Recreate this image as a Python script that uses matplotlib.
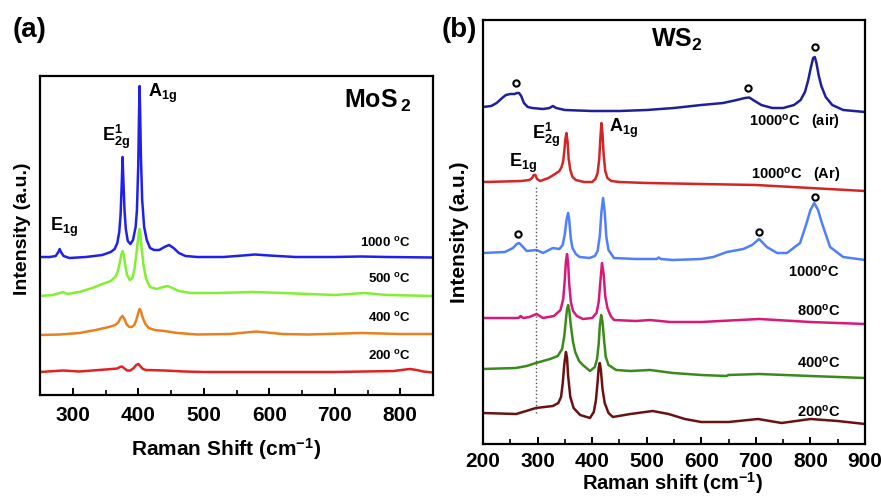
import matplotlib
matplotlib.use("Agg")
import matplotlib.pyplot as plt
from matplotlib.ticker import MultipleLocator

plt.rcParams['font.family'] = ['Liberation Sans', 'DejaVu Sans']
plt.rcParams['font.weight'] = 'bold'
plt.rcParams['mathtext.fontset'] = 'custom'
plt.rcParams['mathtext.rm'] = 'Liberation Sans:bold'
plt.rcParams['mathtext.it'] = 'Liberation Sans:bold'
plt.rcParams['mathtext.bf'] = 'Liberation Sans:bold'
plt.rcParams['mathtext.default'] = 'rm'

# ---------------- Panel (a): MoS2 ----------------
mos2_1000_x = [250, 265, 274, 278, 280, 282, 286, 295, 320, 345, 358, 364, 368, 371, 373, 375, 376, 377, 379, 381, 384, 388,
               392, 396, 398, 400, 401, 402, 403, 404, 406, 409, 413, 418, 424, 432, 440, 447, 454, 462, 472, 490, 530, 560,
               578, 600, 640, 700, 740, 780, 850]
mos2_1000_y = [138, 138, 139, 143, 146, 143, 139, 137, 138, 140, 143, 146, 152, 163, 180, 215, 238, 220, 185, 166, 154, 151,
               155, 168, 185, 230, 275, 309, 280, 240, 195, 168, 155, 147, 145, 145, 148, 150, 147, 142, 139, 138, 138, 139.5,
               140.5, 139.5, 138, 138, 138.5, 138, 137.5]

mos2_500_x = [250, 270, 280, 285, 292, 310, 330, 345, 358, 365, 369, 372, 374, 376, 378, 380, 383, 387, 391, 394, 397, 399,
              401, 402, 403, 405, 408, 412, 418, 428, 438, 445, 452, 462, 480, 520, 575, 620, 700, 745, 780, 850]
mos2_500_y = [99, 100, 102, 103, 101, 103, 107, 111, 114, 118, 124, 133, 140, 144, 140, 130, 120, 115, 117, 125, 140, 152,
              163, 166, 162, 148, 130, 116, 108, 106, 108, 109, 107, 104, 102, 102, 103, 102, 100, 102, 100, 99]

mos2_400_x = [250, 280, 310, 335, 355, 365, 370, 373, 376, 379, 382, 386, 390, 394, 397, 400, 402, 404, 407, 411, 416, 425,
              440, 460, 490, 540, 580, 620, 660, 740, 800, 850]
mos2_400_y = [60, 60.5, 62, 65, 68, 70, 73, 77, 79, 76, 71, 68, 68, 70, 75, 82, 86, 84, 77, 71, 67, 65,
              64, 62, 60.5, 61, 63.5, 61, 60.5, 62, 61, 61]

mos2_200_x = [250, 285, 310, 340, 360, 368, 372, 375, 378, 383, 388, 393, 397, 400, 403, 407, 412, 440, 470, 500, 600, 700,
              790, 808, 815, 825, 835, 850]
mos2_200_y = [23, 24.5, 23.5, 25, 26, 26.5, 28, 28.5, 27, 24.5, 24.5, 27, 30, 31, 29, 26, 25, 24.5, 23.5, 23, 23, 23,
              24, 25.5, 26, 25, 23.5, 22.5]

mos2_labels = ["1000 $^{o}$C", "500 $^{o}$C", "400 $^{o}$C", "200 $^{o}$C"]
mos2_colors = ["#2020ee", "#80f030", "#e8801e", "#e02222"]

# ---------------- Panel (b): WS2 ----------------
ws2_air_x = [200, 215, 225, 235, 242, 250, 258, 262, 266, 270, 275, 282, 290, 310, 322, 328, 334, 350, 400, 450, 500, 550,
             600, 640, 665, 680, 688, 695, 710, 730, 750, 770, 782, 790, 796, 801, 805, 808, 811, 815, 820, 828, 840, 860,
             880, 900]
ws2_air_y = [337, 338, 341, 346, 349, 350, 350, 351, 351, 348, 341, 337, 336, 335, 336, 338, 336, 334, 333, 333, 334, 336,
             339, 341, 344, 346, 346.5, 344, 339, 336, 336, 339, 344, 352, 364, 377, 386, 387, 381, 369, 358, 347, 339, 334,
             333, 332]

ws2_ar_x = [200, 240, 270, 285, 290, 293, 296, 299, 305, 320, 332, 340, 344, 347, 349, 351, 353, 355, 357, 360, 364, 370,
            385, 400, 406, 410, 413, 415, 417, 419, 421, 424, 428, 435, 450, 500, 600, 700, 800, 900]
ws2_ar_y = [262, 262.5, 263, 264, 266, 269, 269, 265, 263, 266, 270, 273, 277, 283, 293, 305, 311, 302, 285, 274, 267, 264,
            262, 262, 265, 271, 285, 305, 321, 310, 290, 273, 266, 263, 262, 261, 260, 259, 256, 253]

ws2_1000_x = [200, 240, 255, 262, 266, 270, 280, 298, 310, 328, 340, 346, 350, 353, 356, 358, 361, 364, 370, 377, 395, 405,
              410, 414, 417, 420, 423, 426, 430, 440, 480, 518, 522, 526, 548, 600, 622, 647, 677, 693, 706, 720, 739, 757,
              781, 793, 800, 807, 814, 821, 836, 860, 900]
ws2_1000_y = [191, 192, 196, 200, 201, 199, 193, 194, 191, 196, 195, 199, 210, 224, 231, 224, 205, 196, 190, 187, 186, 188,
              193, 208, 232, 246, 232, 207, 194, 186, 185, 185, 186.5, 185, 184, 185, 187, 192, 195, 199, 205, 197, 191, 191,
              201, 221, 234, 241, 234, 221, 197, 187, 184]

ws2_800_x = [200, 265, 269, 271, 274, 285, 298, 310, 330, 342, 347, 350, 352, 354, 356, 358, 361, 365, 372, 383, 400, 408,
             412, 415, 418, 421, 424, 428, 434, 440, 480, 506, 543, 600, 706, 800, 900]
ws2_800_y = [126, 126, 128, 127, 126, 127, 130, 126, 128, 134, 145, 165, 183, 190, 181, 160, 142, 133, 128, 125, 126, 131,
             142, 162, 181, 170, 148, 136, 128, 124, 123, 124, 122, 122, 125, 122, 120]

ws2_400_x = [200, 260, 280, 297, 323, 337, 345, 349, 352, 354, 356, 358, 361, 365, 369, 376, 383, 396, 405, 409, 412, 414,
             416.5, 419, 422, 425, 430, 444, 470, 506, 548, 600, 647, 649, 706, 800, 900]
ws2_400_y = [75, 76, 78, 81, 85, 88, 95, 108, 125, 135, 139, 134, 118, 102, 92, 83, 79, 73, 77, 85, 100, 118,
             129, 122, 103, 87, 79, 74, 73, 74, 71, 69, 68, 69, 70, 68, 66]

ws2_200_x = [200, 261, 297, 328, 338, 343, 346, 349, 352, 354, 356, 360, 366, 378, 396, 403, 407, 410, 412, 414, 416, 419,
             423, 430, 438, 470, 511, 540, 570, 600, 650, 704, 747, 800, 850, 900]
ws2_200_y = [31, 30, 36, 38, 41, 47, 60, 80, 92, 86, 68, 47, 36, 29, 26, 32, 44, 62, 76, 81, 74, 55,
             41, 31, 27, 30, 33, 30, 25, 22, 22, 25, 21, 25, 23, 20]

ws2_labels = ["1000$^{o}$C   (air)", "1000$^{o}$C   (Ar)", "1000$^{o}$C", "800$^{o}$C", "400$^{o}$C", "200$^{o}$C"]
ws2_colors = ["#1f1f9c", "#d42424", "#4f7fff", "#d8197a", "#3c8a1c", "#6a1212"]

ws2_oxide_x = [261, 686, 808, 264, 706, 808]
ws2_oxide_y = [361, 356, 397, 210, 212, 247]

x_ticks_a = [300, 400, 500, 600, 700, 800]
x_ticks_b = [200, 300, 400, 500, 600, 700, 800, 900]

fig = plt.figure(figsize=(8.81, 4.96), dpi=100)
axa = fig.add_axes([40/881, 101/496, 393/881, 319/496])
axb = fig.add_axes([483/881, 52/496, 382/881, 424/496])

for xs, ys, c in zip([mos2_1000_x, mos2_500_x, mos2_400_x, mos2_200_x],
                     [mos2_1000_y, mos2_500_y, mos2_400_y, mos2_200_y], mos2_colors):
    axa.plot(xs, ys, color=c, lw=1.8, solid_joinstyle='round')

axa.set_xlim(250, 850)
axa.set_ylim(0, 319)
axa.set_xticks(x_ticks_a)
axa.set_xticklabels([str(v) for v in x_ticks_a])
axa.xaxis.set_minor_locator(MultipleLocator(50))
axa.set_yticks([])

temp_y_a = [152, 116, 77, 39]
for lab, ty in zip(mos2_labels, temp_y_a):
    axa.text(816, ty, lab, ha='right', va='center', fontsize=9.5, fontweight='bold')
axa.text(287, 168, "E$_{1g}$", ha='center', va='center', fontsize=13)
axa.text(366, 258, "E$^{1}_{2g}$", ha='center', va='center', fontsize=13)
axa.text(437, 302, "A$_{1g}$", ha='center', va='center', fontsize=13)
axa.text(766, 294, "MoS$\\,_{2}$", ha='center', va='center', fontsize=18)

axa.set_xlabel("Raman Shift (cm$^{-1}$)", fontsize=15, fontweight='bold')
axa.set_ylabel("Intensity (a.u.)", fontsize=14, fontweight='bold')
axa.xaxis.set_label_coords(0.474, -0.128)
axa.yaxis.set_label_coords(-0.023, 0.52)

# panel b
for xs, ys, c in zip([ws2_air_x, ws2_ar_x, ws2_1000_x, ws2_800_x, ws2_400_x, ws2_200_x],
                     [ws2_air_y, ws2_ar_y, ws2_1000_y, ws2_800_y, ws2_400_y, ws2_200_y], ws2_colors):
    axb.plot(xs, ys, color=c, lw=1.8, solid_joinstyle='round')

axb.plot([298, 298], [31, 259], color='#555555', lw=1.0, ls=':')
axb.plot(ws2_oxide_x, ws2_oxide_y, ls='none', marker='o', ms=4.5, mfc='white', mec='black', mew=1.5)

axb.set_xlim(200, 900)
axb.set_ylim(0, 424)
axb.set_xticks(x_ticks_b)
axb.set_xticklabels([str(v) for v in x_ticks_b])
axb.xaxis.set_minor_locator(MultipleLocator(50))
axb.set_yticks([])

temp_y_b = [322, 269, 172, 133, 81, 32]
for lab, ty in zip(ws2_labels, temp_y_b):
    axb.text(854, ty, lab, ha='right', va='center', fontsize=10.5, fontweight='bold')
axb.text(274, 281, "E$_{1g}$", ha='center', va='center', fontsize=13)
axb.text(316, 309, "E$^{1}_{2g}$", ha='center', va='center', fontsize=13)
axb.text(457, 316, "A$_{1g}$", ha='center', va='center', fontsize=13)
axb.text(555, 404, "WS$_{2}$", ha='center', va='center', fontsize=18)

axb.set_xlabel("Raman shift (cm$^{-1}$)", fontsize=14.5, fontweight='bold')
axb.set_ylabel("Intensity (a.u.)", fontsize=15, fontweight='bold')
axb.xaxis.set_label_coords(0.497, -0.062)
axb.yaxis.set_label_coords(-0.037, 0.5)

for ax, p in ((axa, 8), (axb, 6)):
    for s in ax.spines.values():
        s.set_linewidth(1.6)
    ax.tick_params(axis='x', which='major', direction='in', length=5, width=1.4, labelsize=15, pad=p)
    ax.tick_params(axis='x', which='minor', direction='in', length=3.5, width=1.2)
    for t in ax.get_xticklabels():
        t.set_fontweight('bold')

fig.text(30/881, 1 - 30/496, "(a)", ha='center', va='center', fontsize=20, fontweight='bold')
fig.text(459/881, 1 - 30/496, "(b)", ha='center', va='center', fontsize=20, fontweight='bold')

fig.savefig("out.png", dpi=100)
